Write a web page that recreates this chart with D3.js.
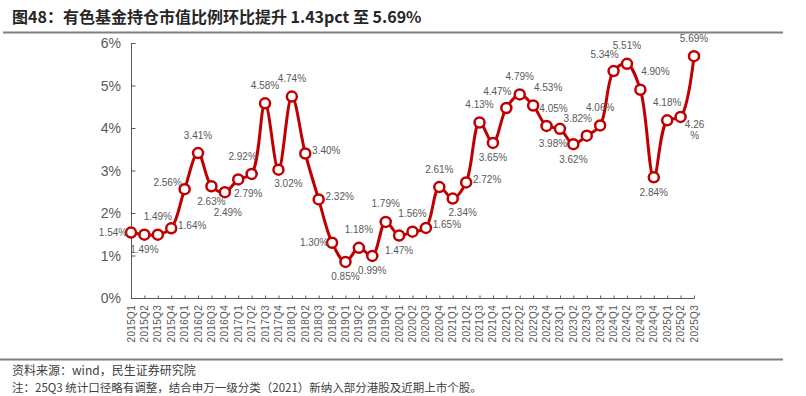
<!DOCTYPE html>
<html>
<head>
<meta charset="utf-8">
<script src="https://cdn.jsdelivr.net/npm/d3@7"></script>
<style>
    body { margin: 0; background: #fff; }
    svg { display: block; }
    text { font-family: "Liberation Sans", Arial, "Noto Sans CJK SC", sans-serif; }
    .cjk { font-family: "Noto Sans CJK SC", "Liberation Sans", sans-serif; }
</style>
</head>
<body>
<div id="chart"></div>
<script>
const quarters = [
    "2015Q1", "2015Q2", "2015Q3", "2015Q4", "2016Q1", "2016Q2", "2016Q3", "2016Q4",
    "2017Q1", "2017Q2", "2017Q3", "2017Q4", "2018Q1", "2018Q2", "2018Q3", "2018Q4",
    "2019Q1", "2019Q2", "2019Q3", "2019Q4", "2020Q1", "2020Q2", "2020Q3", "2020Q4",
    "2021Q1", "2021Q2", "2021Q3", "2021Q4", "2022Q1", "2022Q2", "2022Q3", "2022Q4",
    "2023Q1", "2023Q2", "2023Q3", "2023Q4", "2024Q1", "2024Q2", "2024Q3", "2024Q4",
    "2025Q1", "2025Q2", "2025Q3"
];
const holdingRatio = [
    1.54, 1.49, 1.49, 1.64, 2.56, 3.41, 2.63, 2.49,
    2.79, 2.92, 4.58, 3.02, 4.74, 3.40, 2.32, 1.30,
    0.85, 1.18, 0.99, 1.79, 1.47, 1.56, 1.65, 2.61,
    2.34, 2.72, 4.13, 3.65, 4.47, 4.79, 4.53, 4.05,
    3.98, 3.62, 3.82, 4.06, 5.34, 5.51, 4.90, 2.84,
    4.18, 4.26, 5.69
];
const yTicks = [0, 1, 2, 3, 4, 5, 6];

// where each data label sits around its point
const labelSide = [
    "l", "b", "t", "r", "lu", "t", "b", "bb",
    "br", "tl", "t", "br", "t", "r", "r", "l",
    "b", "t", "b", "t", "b", "t", "r", "t",
    "br", "r", "t", "b", "tl", "t", "tr", "tR",
    "bl", "b", "tl", "t", "tl", "t", "tr", "b",
    "t", "wrap", "t"
];
const sideOffset = {
    t: [0, -18], tl: [-9, -17], tr: [15, -18], tR: [7, -17],
    b: [0, 15], bb: [3, 20], br: [10, 14], bl: [-7, 15],
    l: [-18, 0], lu: [-17, -7], r: [21, -3], wrap: [14, 8]
};

const width = 806, height = 396;
const red = "#c00000", grey = "#595959";

const svg = d3.select("#chart").append("svg")
    .attr("width", width)
    .attr("height", height);

// title and rules
svg.append("text")
    .attr("class", "cjk")
    .attr("x", 12).attr("y", 23)
    .attr("font-size", 16).attr("font-weight", "bold")
    .attr("fill", "#262626")
    .text("图48：有色基金持仓市值比例环比提升 1.43pct 至 5.69%");

svg.append("line")
    .attr("x1", 3).attr("x2", 783).attr("y1", 32.5).attr("y2", 32.5)
    .attr("stroke", "#7f7f7f").attr("stroke-width", 2);

svg.append("line")
    .attr("x1", 0).attr("x2", 783).attr("y1", 359.5).attr("y2", 359.5)
    .attr("stroke", "#7f7f7f").attr("stroke-width", 2);

svg.append("text")
    .attr("class", "cjk")
    .attr("x", 12).attr("y", 375)
    .attr("font-size", 12).attr("fill", "#404040")
    .text("资料来源：wind，民生证券研究院");

svg.append("text")
    .attr("class", "cjk")
    .attr("x", 12).attr("y", 392.3)
    .attr("font-size", 11.5).attr("fill", "#404040")
    .text("注：25Q3 统计口径略有调整，结合申万一级分类（2021）新纳入部分港股及近期上市个股。");

// scales
const x = d3.scalePoint().domain(quarters).range([131, 694]);
const y = d3.scaleLinear().domain([0, 6]).range([298, 43]);

// y axis
const yAxis = svg.append("g")
    .attr("transform", "translate(131,0)")
    .call(d3.axisRight(y).tickValues(yTicks).tickSize(4).tickFormat(""));
yAxis.select(".domain").attr("d", `M0.5,${y(6)}V${y(0)}`);
yAxis.selectAll("line").attr("x1", 0.5).attr("x2", 4.5);
yAxis.selectAll(".domain, line").attr("stroke", grey);

svg.append("g").selectAll("text")
    .data(yTicks)
    .enter().append("text")
    .attr("x", 121)
    .attr("y", d => y(d) + 5)
    .attr("text-anchor", "end")
    .attr("font-size", 14)
    .attr("fill", grey)
    .text(d => d + "%");

// x axis
const xAxis = svg.append("g")
    .attr("transform", "translate(0,298.5)")
    .call(d3.axisTop(x).tickSize(3).tickFormat(""));
xAxis.select(".domain").attr("d", `M131,0H${x(quarters[quarters.length - 1]) + 0.5}`);
xAxis.selectAll(".domain, line").attr("stroke", grey);
xAxis.selectAll(".tick").filter((d, i) => i === 0).remove();

svg.append("g").selectAll("text")
    .data(quarters)
    .enter().append("text")
    .attr("transform", d => `translate(${x(d) + 3.5},305) rotate(-90)`)
    .attr("text-anchor", "end")
    .attr("font-size", 10)
    .attr("letter-spacing", 0.3)
    .attr("fill", grey)
    .text(d => d);

// line
const points = quarters.map((q, i) => ({ q, v: holdingRatio[i], side: labelSide[i] }));

const line = d3.line()
    .x(d => x(d.q))
    .y(d => y(d.v))
    .curve(d3.curveCatmullRom.alpha(0.5));

svg.append("path")
    .datum(points)
    .attr("d", line)
    .attr("fill", "none")
    .attr("stroke", red)
    .attr("stroke-width", 3)
    .attr("stroke-linejoin", "round");

svg.append("g").selectAll("circle")
    .data(points)
    .enter().append("circle")
    .attr("cx", d => x(d.q))
    .attr("cy", d => y(d.v))
    .attr("r", 5)
    .attr("fill", "#fff")
    .attr("stroke", red)
    .attr("stroke-width", 2.5);

// data labels
const labels = svg.append("g").selectAll("text")
    .data(points)
    .enter().append("text")
    .attr("text-anchor", "middle")
    .attr("font-size", 10)
    .attr("fill", grey)
    .attr("x", d => x(d.q) + sideOffset[d.side][0])
    .attr("y", d => y(d.v) + sideOffset[d.side][1] + 3.5);

labels.filter(d => d.side !== "wrap").text(d => d.v.toFixed(2) + "%");

labels.filter(d => d.side === "wrap").each(function (d) {
    const t = d3.select(this);
    const cx = x(d.q) + sideOffset.wrap[0];
    t.append("tspan").attr("x", cx).text(d.v.toFixed(2));
    t.append("tspan").attr("x", cx).attr("dy", 11).text("%");
});
</script>
</body>
</html>
